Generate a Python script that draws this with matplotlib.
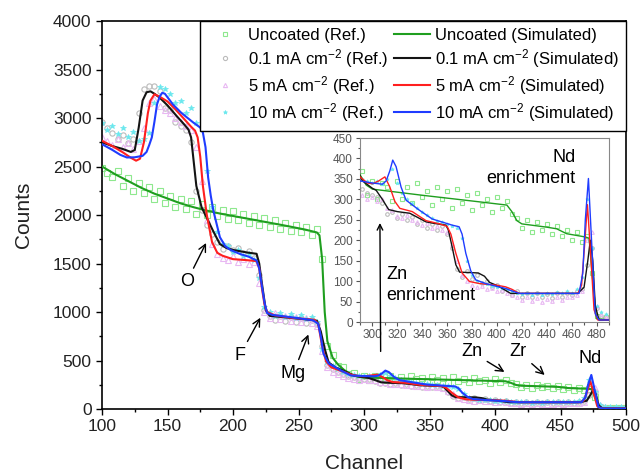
import numpy as np
import matplotlib
matplotlib.use('Agg')
import matplotlib.pyplot as plt
from matplotlib.ticker import MultipleLocator
from matplotlib.lines import Line2D

plt.rcParams['font.family'] = ['Liberation Sans', 'DejaVu Sans']
plt.rcParams['mathtext.fontset'] = 'custom'
plt.rcParams['mathtext.rm'] = 'Liberation Sans'
plt.rcParams['mathtext.it'] = 'Liberation Sans:italic'

# reference (measured) spectra, one value every 4 channels from 100 to 500
ref_channels = np.arange(100, 501, 4)

ref_uncoated = [
    2480, 2430, 2390, 2450, 2300, 2380, 2250, 2330, 2230, 2290,
    2160, 2250, 2120, 2200, 2080, 2170, 2060, 2140, 2010, 2110,
    2000, 2080, 1990, 2050, 1960, 2040, 1950, 2010, 1920, 1990,
    1900, 1970, 1880, 1950, 1860, 1920, 1840, 1900, 1820, 1880,
    1790, 1860, 1550, 650, 560, 440, 430, 360, 370, 310,
    345, 300, 340, 330, 295, 345, 300, 330, 290, 340,
    305, 320, 285, 330, 300, 320, 280, 325, 290, 310,
    275, 315, 285, 300, 270, 305, 280, 295, 265, 255,
    230, 250, 220, 245, 225, 240, 215, 235, 210, 225,
    200, 220, 195, 210, 120, 15, 10, 12, 8, 10,
    8]
ref_01 = [
    2960, 2900, 2850, 2780, 2820, 2740, 2780, 3050, 3300, 3330,
    3330, 3280, 3100, 3080, 2960, 2920, 2880, 2750, 2250, 2050,
    1900, 1800, 1720, 1650, 1680, 1640, 1660, 1610, 1630, 1560,
    1380, 1020, 960, 920, 960, 910, 950, 900, 940, 890,
    920, 880, 650, 450, 410, 380, 360, 345, 325, 315,
    310, 305, 290, 265, 270, 255, 265, 250, 258, 240,
    250, 230, 240, 225, 235, 215, 180, 130, 110, 125,
    105, 115, 95, 100, 85, 90, 75, 80, 65, 75,
    60, 70, 62, 72, 60, 68, 58, 70, 62, 72,
    65, 75, 80, 140, 180, 35, 15, 10, 12, 10,
    8]
ref_5 = [
    2800, 2760, 2720, 2780, 2700, 2740, 2680, 2760, 2900, 3150,
    3200, 3120, 3080, 3050, 3000, 2960, 2920, 2880, 2700, 2350,
    1950, 1700, 1600, 1560, 1540, 1580, 1520, 1550, 1500, 1520,
    1300, 1000, 940, 990, 930, 960, 910, 950, 900, 940,
    890, 860, 600, 430, 380, 360, 340, 320, 310, 300,
    305, 295, 300, 280, 275, 260, 255, 262, 250, 245,
    238, 242, 230, 235, 225, 220, 190, 150, 115, 100,
    90, 85, 88, 80, 82, 75, 78, 70, 65, 60,
    55, 60, 52, 58, 50, 56, 52, 60, 55, 62,
    60, 65, 75, 200, 220, 40, 20, 15, 12, 10,
    10]
ref_10 = [
    2950, 2880, 2920, 2840, 2900, 2800, 2860, 2760, 2780, 2850,
    3150, 3320, 3300, 3250, 3150, 3180, 3050, 3100, 2950, 2900,
    2450, 2080, 1820, 1700, 1680, 1620, 1640, 1580, 1600, 1540,
    1350, 1050, 1000, 960, 990, 950, 980, 940, 970, 930,
    950, 900, 620, 480, 440, 410, 385, 360, 350, 345,
    340, 345, 338, 350, 375, 340, 315, 300, 290, 280,
    270, 262, 255, 248, 245, 240, 236, 230, 205, 150,
    115, 100, 95, 92, 88, 85, 82, 80, 75, 70,
    68, 72, 66, 70, 65, 72, 68, 74, 70, 76,
    72, 80, 110, 300, 180, 40, 25, 20, 22, 18,
    20]

# simulated spectra
sim_uncoated_ch = [100, 110, 120, 130, 140, 150, 160, 170, 180, 190,
                   200, 220, 240, 255, 264, 266, 268, 270, 272, 276,
                   280, 285, 290, 295, 300, 340, 380, 408, 412, 416,
                   420, 440, 448, 452, 456, 471, 474, 477, 480, 490, 500]
sim_uncoated = [2500, 2420, 2350, 2280, 2220, 2170, 2120, 2080, 2045, 2015,
                1990, 1940, 1890, 1850, 1820, 1790, 1550, 1000, 700, 530,
                460, 400, 360, 335, 325, 310, 296, 286, 270, 248,
                240, 232, 228, 222, 216, 208, 205, 100, 8, 5, 5]

sim_01_ch = [100, 108, 116, 122, 125, 128, 131, 134, 137, 140,
             144, 150, 157, 163, 166, 168, 170, 172, 176, 180,
             185, 190, 195, 200, 210, 218, 220, 222, 225, 228,
             240, 255, 264, 267, 270, 273, 278, 285, 292, 300,
             303, 308, 313, 320, 330, 343, 350, 359, 361, 364,
             367, 370, 385, 390, 394, 401, 411, 465, 470, 473,
             475, 477, 479, 482, 500]
sim_01 = [2750, 2710, 2680, 2650, 2670, 2900, 3180, 3265, 3275, 3250,
          3210, 3130, 3020, 2930, 2880, 2800, 2550, 2300, 2080, 1970,
          1830, 1700, 1660, 1640, 1615, 1600, 1500, 1300, 1020, 960,
          945, 925, 910, 800, 620, 480, 430, 390, 345, 327,
          322, 300, 275, 270, 266, 245, 241, 237, 225, 184,
          140, 122, 120, 112, 97, 88, 70, 70, 85, 150,
          200, 150, 40, 5, 5]

sim_5_ch = [100, 108, 116, 122, 126, 129, 132, 135, 137, 140,
            144, 150, 156, 162, 168, 171, 173, 175, 177, 180,
            184, 188, 192, 200, 210, 218, 220, 222, 224, 226,
            232, 245, 262, 265, 268, 271, 275, 282, 290, 296,
            300, 305, 310, 314, 318, 322, 332, 343, 354, 360,
            363, 367, 372, 378, 386, 400, 407, 412, 418, 465,
            468, 470, 472.7, 475, 478, 481, 500]
sim_5 = [2765, 2710, 2645, 2590, 2560, 2580, 2750, 3050, 3180, 3245,
         3220, 3170, 3090, 3000, 2910, 2870, 2800, 2600, 2300, 2000,
         1720, 1610, 1580, 1545, 1535, 1525, 1450, 1250, 1080, 1000,
         965, 940, 920, 880, 650, 490, 430, 395, 355, 340,
         338, 345, 355, 330, 295, 278, 270, 248, 240, 234,
         215, 168, 120, 99, 94, 90, 86, 80, 70, 70,
         90, 170, 287, 180, 30, 5, 5]

sim_10_ch = [100, 108, 114, 119, 125, 131, 134, 136, 138, 140,
             142, 144, 146, 148, 154, 160, 165, 170, 175, 177,
             179, 181, 183, 185, 188, 190, 194, 198, 205, 212,
             218, 220, 222, 224, 226, 230, 245, 261, 265, 267,
             269, 273, 282, 290, 300, 308, 311, 314, 316.3, 319,
             323, 327, 337, 348, 364, 369.6, 372, 375, 379, 383,
             391, 400, 407, 412, 418, 466, 469, 471, 473.5, 476,
             479, 482, 500]
sim_10 = [2730, 2670, 2620, 2593, 2595, 2610, 2650, 2720, 2799, 2960,
          3141, 3220, 3260, 3250, 3142, 3060, 3004, 2950, 2901, 2850,
          2700, 2388, 2200, 2045, 1880, 1771, 1680, 1640, 1600, 1570,
          1531, 1450, 1270, 1100, 990, 970, 945, 915, 880, 750,
          572, 470, 400, 345, 340, 337, 345, 370, 396, 380,
          330, 298, 275, 252, 237, 233, 215, 168, 125, 103,
          94, 87, 82, 76, 70, 70, 120, 250, 351, 200,
          20, 5, 5]

ref_labels = ['Uncoated (Ref.)', '0.1 mA cm$^{-2}$ (Ref.)',
              '5 mA cm$^{-2}$ (Ref.)', '10 mA cm$^{-2}$ (Ref.)']
sim_labels = ['Uncoated (Simulated)', '0.1 mA cm$^{-2}$ (Simulated)',
              '5 mA cm$^{-2}$ (Simulated)', '10 mA cm$^{-2}$ (Simulated)']

ref_series = [ref_uncoated, ref_01, ref_5, ref_10]
sim_series = [(sim_uncoated_ch, sim_uncoated), (sim_01_ch, sim_01),
              (sim_5_ch, sim_5), (sim_10_ch, sim_10)]

ref_styles = [dict(marker='s', mfc='none', mec='#8ee88e', mew=0.8),
              dict(marker='o', mfc='none', mec='#bbbbbb', mew=0.8),
              dict(marker='^', mfc='none', mec='#e8b8f2', mew=0.8),
              dict(marker='*', mfc='#6ae8ee', mec='#6ae8ee', mew=0.5)]
sim_colors = ['#1f9e1f', '#141414', '#ff1f1f', '#1f3cff']


def draw_series(ax, lw, ms):
    for vals, st in zip(ref_series, ref_styles):
        ax.plot(ref_channels, vals, ls='none', ms=ms, zorder=2, **st)
    for (ch, vals), c in zip(sim_series, sim_colors):
        ax.plot(ch, vals, color=c, lw=lw, zorder=3)


fig = plt.figure(figsize=(6.44, 4.73), dpi=100)
ax = fig.add_axes([0.1584, 0.1353, 0.8137, 0.8203])
draw_series(ax, 1.5, 3.8)

ax.set_xlim(100, 500)
ax.set_ylim(0, 4000)
ax.xaxis.set_major_locator(MultipleLocator(50))
ax.xaxis.set_minor_locator(MultipleLocator(25))
ax.yaxis.set_major_locator(MultipleLocator(500))
ax.yaxis.set_minor_locator(MultipleLocator(250))
ax.tick_params(which='both', direction='out', width=1, labelsize=12.5,
               labelcolor='#222222')
ax.tick_params(which='major', length=4)
ax.tick_params(which='minor', length=2.5)
for s in ax.spines.values():
    s.set_linewidth(1.2)
ax.set_xlabel('Channel', fontsize=15, labelpad=14, color='#222222')
ax.set_ylabel('Counts', fontsize=15, labelpad=14, color='#222222')

handles = [Line2D([], [], ls='none', ms=3, **st) for st in ref_styles]
handles += [Line2D([], [], color=c, lw=1.5) for c in sim_colors]
leg = ax.legend(handles, ref_labels + sim_labels, ncol=2, loc='upper right',
                bbox_to_anchor=(1, 1), borderaxespad=0, fontsize=12,
                fancybox=False, edgecolor='black', framealpha=1,
                handlelength=2.2, handletextpad=0.3, columnspacing=0.3,
                labelspacing=0.25, borderpad=0.4)
leg.get_frame().set_linewidth(1.0)

arrow = dict(arrowstyle='->', color='black', lw=1)
ax.annotate('O', xy=(180.4, 1737), xytext=(164.6, 1310), fontsize=13,
            ha='center', va='center', arrowprops=arrow)
ax.annotate('F', xy=(221.9, 966), xytext=(205.3, 555), fontsize=13,
            ha='center', va='center', arrowprops=arrow)
ax.annotate('Mg', xy=(258.3, 795), xytext=(246, 367), fontsize=13,
            ha='center', va='center', arrowprops=arrow)
ax.annotate('Zn', xy=(409, 367), xytext=(382, 589), fontsize=13,
            ha='center', va='center', arrowprops=arrow)
ax.annotate('Zr', xy=(439.5, 332), xytext=(417.8, 589), fontsize=13,
            ha='center', va='center', arrowprops=arrow)
ax.text(472.5, 521, 'Nd', fontsize=13, ha='center', va='center')

# inset zoom on the low count region
axin = fig.add_axes([0.559, 0.3192, 0.3866, 0.389])
draw_series(axin, 1.0, 2.6)
axin.set_xlim(290, 490)
axin.set_ylim(0, 450)
axin.xaxis.set_major_locator(MultipleLocator(20))
axin.xaxis.set_minor_locator(MultipleLocator(10))
axin.yaxis.set_major_locator(MultipleLocator(50))
axin.yaxis.set_minor_locator(MultipleLocator(25))
axin.tick_params(which='both', direction='out', width=0.8, labelsize=8.5,
                 colors='#555555', pad=2)
axin.tick_params(which='major', length=3)
axin.tick_params(which='minor', length=1.8)
for s in axin.spines.values():
    s.set_linewidth(0.8)
    s.set_color('#888888')

axin.text(463, 403, 'Nd', fontsize=13, ha='right', va='center')
axin.text(463, 350, 'enrichment', fontsize=13, ha='right', va='center')
axin.text(311, 115, 'Zn', fontsize=13, ha='left', va='center')
axin.text(311, 64, 'enrichment', fontsize=13, ha='left', va='center')
axin.annotate('', xy=(306, 249), xytext=(312.7, 565), textcoords=ax.transData,
              annotation_clip=False, arrowprops=arrow)

fig.savefig('out.png', dpi=100)
